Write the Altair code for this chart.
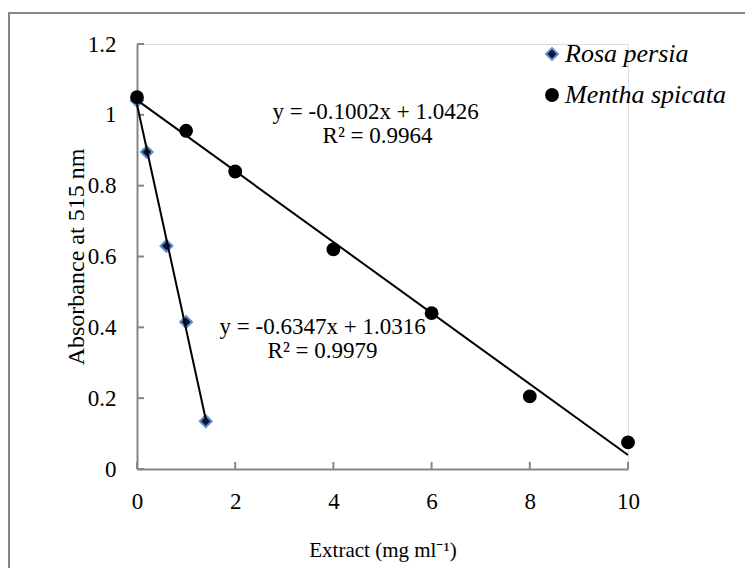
import altair as alt
import pandas as pd

# ---- data ----
rosa_x = [0, 0.2, 0.6, 1.0, 1.4]
rosa_y = [1.04, 0.895, 0.63, 0.415, 0.135]
mentha_x = [0, 1, 2, 4, 6, 8, 10]
mentha_y = [1.05, 0.955, 0.84, 0.62, 0.44, 0.205, 0.075]
series_names = ["Rosa persia", "Mentha spicata"]

eq_labels = ["y = -0.1002x + 1.0426", "R² = 0.9964", "y = -0.6347x + 1.0316", "R² = 0.9979"]
eq_x = [4.86, 4.9, 3.78, 3.78]
eq_y = [1.008, 0.94, 0.40, 0.332]

x_ticks = [0, 2, 4, 6, 8, 10]
y_ticks = [0, 0.2, 0.4, 0.6, 0.8, 1.0, 1.2]

FONT = "Liberation Serif"
GRAY = "#868686"
W, H = 491, 425

df = pd.DataFrame({
    "x": rosa_x + mentha_x,
    "y": rosa_y + mentha_y,
    "series": [series_names[0]] * len(rosa_x) + [series_names[1]] * len(mentha_x),
})
eq_df = pd.DataFrame({"label": eq_labels, "x": eq_x, "y": eq_y})
xt_df = pd.DataFrame({"v": x_ticks})
yt_df = pd.DataFrame({"v": y_ticks})

xscale = alt.Scale(domain=[0, 10], nice=False, zero=False)
yscale = alt.Scale(domain=[0, 1.2], nice=False, zero=False)

xaxis = alt.Axis(values=x_ticks, ticks=False, grid=False, domainColor=GRAY, domainWidth=2,
                 labelFont=FONT, labelFontSize=23, labelColor="black", labelPadding=21, labelFlush=False,
                 title="Extract (mg ml⁻¹)", titleFont=FONT, titleFontSize=21, titleFontWeight="normal",
                 titleColor="black", titleX=W / 2, titleY=87, titleBaseline="alphabetic")
yaxis = alt.Axis(values=y_ticks, format=".1~f", ticks=False, grid=False, domainColor=GRAY, domainWidth=2,
                 labelFont=FONT, labelFontSize=23, labelColor="black", labelPadding=21, labelFlush=False,
                 title="Absorbance at 515 nm", titleFont=FONT, titleFontSize=24, titleFontWeight="normal",
                 titleColor="black", titleX=-54, titleY=H / 2, titleBaseline="alphabetic", titleAngle=270)

leg = alt.Legend(title=None, orient="none", legendX=402, legendY=-3, padding=0,
                 labelFont=FONT, labelFontStyle="italic", labelFontSize=26, labelColor="black",
                 labelLimit=400, symbolSize=140, symbolStrokeWidth=2, rowPadding=15, labelOffset=0)

base = alt.Chart(df)

border = alt.Chart(pd.DataFrame({"k": [0]})).mark_rect(
    fill=None, stroke=GRAY, strokeWidth=2, clip=False
).encode(x=alt.value(-128), x2=alt.value(W + 200), y=alt.value(-31), y2=alt.value(H + 200))

points = base.mark_point(filled=True, opacity=1, size=140, strokeWidth=2).encode(
    x=alt.X("x:Q", scale=xscale, axis=xaxis),
    y=alt.Y("y:Q", scale=yscale, axis=yaxis),
    shape=alt.Shape("series:N", scale=alt.Scale(domain=series_names, range=["diamond", "circle"]), legend=leg),
    fill=alt.Fill("series:N", scale=alt.Scale(domain=series_names, range=["#141430", "#000000"]), legend=leg),
    stroke=alt.Stroke("series:N", scale=alt.Scale(domain=series_names, range=["#5b8fd4", "#000000"]), legend=leg),
)

lines = base.transform_regression("x", "y", groupby=["series"], method="linear").mark_line(
    color="black", strokeWidth=2
).encode(x=alt.X("x:Q", scale=xscale), y=alt.Y("y:Q", scale=yscale), detail="series:N")

xt = alt.Chart(xt_df).mark_rule(color=GRAY, strokeWidth=2).encode(
    x=alt.X("v:Q", scale=xscale), y=alt.value(H), y2=alt.value(H - 7))
yt = alt.Chart(yt_df).mark_rule(color=GRAY, strokeWidth=2).encode(
    y=alt.Y("v:Q", scale=yscale), x=alt.value(0), x2=alt.value(7))

texts = alt.Chart(eq_df).mark_text(font=FONT, fontSize=23, color="black", align="center", baseline="middle").encode(
    x=alt.X("x:Q", scale=xscale), y=alt.Y("y:Q", scale=yscale), text="label:N")

chart = alt.layer(border, xt, yt, points, lines, texts).properties(
    width=W, height=H,
    autosize=alt.AutoSizeParams(type="none"),
    padding={"left": 129, "top": 36, "right": 117, "bottom": 99},
    background="white",
).configure_view(stroke=None).configure_legend(
    labelFont=FONT, labelFontStyle="italic"
).configure(font=FONT)

chart.save("out.html", embed_options={"renderer": "svg", "actions": False})
